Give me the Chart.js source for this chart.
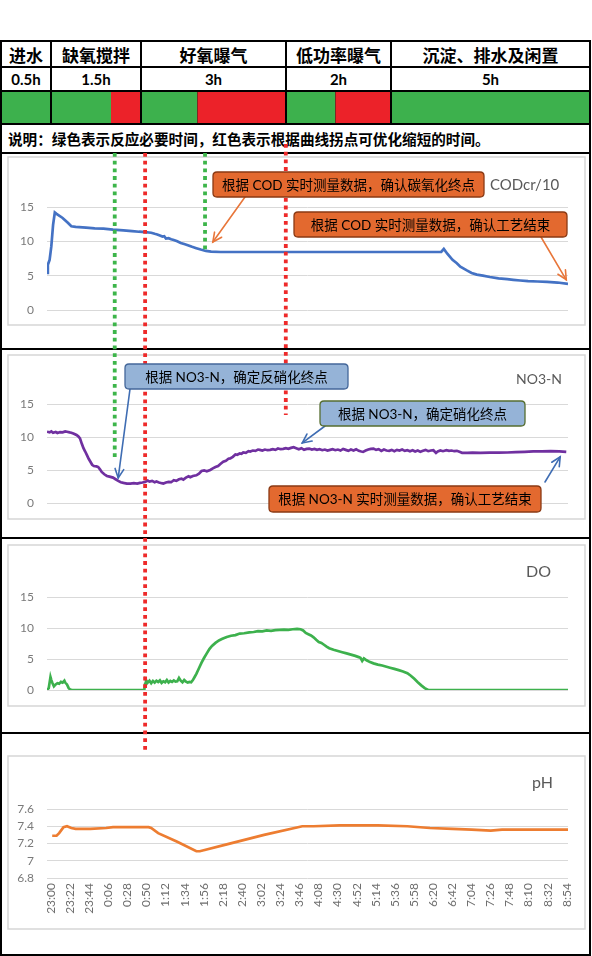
<!DOCTYPE html>
<html>
<head>
<meta charset="utf-8">
<script src="https://cdn.jsdelivr.net/npm/chart.js@4.4.1/dist/chart.umd.min.js"></script>
<style>
  html, body { margin: 0; padding: 0; background: #fff; }
  #page { position: relative; width: 592px; height: 956px; overflow: hidden; font-family: "Noto Sans CJK SC", sans-serif; }
  .cell { position: absolute; display: flex; align-items: center; justify-content: center; font-weight: bold; color: #000; box-sizing: border-box; white-space: nowrap; }
  #overlay { position: absolute; left: 0; top: 0; pointer-events: none; z-index: 10; }
</style>
</head>
<body>
<div id="page"></div>
<script>
// ---------- table ----------
const phaseNames = ['进水', '缺氧搅拌', '好氧曝气', '低功率曝气', '沉淀、排水及闲置'];
const phaseHours = ['0.5h', '1.5h', '3h', '2h', '5h'];
const noteText = '说明：绿色表示反应必要时间，红色表示根据曲线拐点可优化缩短的时间。';

// ---------- time axis (minutes after 23:00) ----------
const timeLabels = ['23:00', '23:22', '23:44', '0:06', '0:28', '0:50', '1:12', '1:34', '1:56', '2:18',
  '2:40', '3:02', '3:24', '3:46', '4:08', '4:30', '4:52', '5:14', '5:36', '5:58', '6:20', '6:42',
  '7:04', '7:26', '7:48', '8:10', '8:32', '8:54'];

// ---------- series ----------
const chartTitles = ['CODcr/10', 'NO3-N', 'DO', 'pH'];
const yMin = [0, 0, 0, 6.8];
const yMax = [15, 15, 15, 7.6];
const yStep = [5, 5, 5, 0.2];

const codT = [0, 1, 3, 5, 7, 9, 11, 18, 24, 28, 33, 45, 55, 65, 76, 88, 98, 106, 113, 120, 124, 127, 130, 133, 135,
  137, 140, 143, 146, 150, 154, 158, 163, 167, 172, 177, 183, 189, 200, 300, 400, 454, 457, 461, 467, 472, 476,
  483, 489, 495, 502, 510, 520, 530, 537, 545, 554, 565, 576, 588, 600];
const codV = [5.4, 6.6, 7.3, 9.3, 12.4, 14.2, 14.0, 13.4, 12.7, 12.2, 12.1, 12.0, 11.9, 11.85, 11.7, 11.6, 11.5, 11.4,
  11.35, 11.25, 11.1, 11.0, 10.85, 10.7, 10.75, 10.4, 10.45, 10.3, 10.2, 10.0, 9.75, 9.6, 9.4, 9.2, 9.0, 8.8, 8.6,
  8.5, 8.45, 8.45, 8.45, 8.45, 8.9, 8.2, 7.3, 6.8, 6.3, 5.8, 5.4, 5.15, 5.0, 4.8, 4.6, 4.5, 4.4, 4.3, 4.2, 4.15,
  4.1, 4.0, 3.8];

const no3T = [0, 3, 5, 7, 10, 12, 15, 18, 21, 23, 26, 28, 31, 34, 36, 38, 40, 42, 44, 46, 48, 50, 52, 54, 57, 59, 61,
  63, 66, 69, 72, 76, 79, 82, 85, 88, 92, 96, 100, 104, 107, 110, 113, 116, 118, 121, 124, 126, 129, 132, 134, 137,
  140, 143, 146, 149, 152, 155, 157, 160, 163, 165, 168, 172, 175, 178, 181, 184, 188, 191, 194, 197, 200, 203, 206,
  209, 211, 214, 217, 219, 222, 224, 226, 229, 232, 234, 237, 240, 243, 245, 248, 251, 254, 257, 260, 263, 266, 269,
  272, 275, 278, 281, 284, 287, 290, 293, 296, 299, 302, 305, 308, 311, 314, 317, 320, 323, 326, 329, 332, 335, 338,
  341, 344, 347, 350, 353, 356, 359, 362, 364, 367, 370, 373, 376, 379, 382, 385, 388, 391, 394, 397, 400, 403, 406,
  409, 412, 415, 418, 421, 424, 427, 430, 433, 436, 439, 442, 445, 448, 450, 453, 456, 460, 463, 466, 469, 472, 475,
  478, 484, 490, 499, 510, 520, 530, 540, 550, 560, 570, 580, 590, 598];
const no3V = [10.8, 10.7, 10.85, 10.65, 10.75, 10.6, 10.75, 10.7, 10.85, 10.8, 10.7, 10.65, 10.5, 10.3, 10.1, 9.8, 9.0,
  8.3, 7.8, 7.25, 6.7, 6.25, 5.8, 5.6, 5.55, 5.45, 5.1, 4.7, 4.35, 4.1, 4.0, 3.85, 3.6, 3.35, 3.15, 3.05, 2.95, 2.95,
  3.0, 2.95, 3.05, 3.1, 3.2, 3.4, 3.25, 3.35, 3.15, 3.25, 3.1, 3.0, 2.95, 3.1, 3.2, 3.15, 3.45, 3.35, 3.6, 3.7, 3.55,
  3.85, 4.05, 3.9, 4.1, 4.2, 4.45, 4.85, 4.95, 4.8, 5.0, 5.25, 5.45, 5.6, 5.95, 6.25, 6.4, 6.7, 6.75, 7.0, 7.35, 7.3,
  7.5, 7.45, 7.65, 7.6, 7.85, 7.8, 7.95, 7.9, 8.1, 8.05, 7.95, 8.1, 8.0, 8.05, 8.15, 8.05, 8.25, 8.15, 8.2, 8.3, 8.2,
  8.35, 8.45, 8.3, 8.15, 8.3, 8.05, 8.2, 8.25, 8.1, 8.2, 8.05, 8.15, 8.0, 8.1, 7.95, 8.05, 8.15, 8.0, 8.1, 7.95, 8.2,
  8.05, 7.9, 8.1, 7.95, 8.15, 7.9, 7.8, 7.75, 7.95, 8.1, 8.2, 8.25, 8.05, 8.15, 7.9, 8.1, 7.95, 7.9, 8.05, 7.85, 8.05,
  7.95, 8.1, 7.9, 8.0, 7.85, 8.0, 7.8, 7.95, 7.75, 7.9, 8.05, 7.85, 7.95, 8.0, 7.6, 7.8, 7.95, 7.85, 8.0, 7.9, 7.95,
  7.85, 7.9, 7.75, 7.6, 7.6, 7.62, 7.6, 7.62, 7.63, 7.65, 7.7, 7.75, 7.82, 7.83, 7.85, 7.83, 7.75];

const doT = [0, 2, 4, 5, 6, 8, 10, 12, 14, 16, 18, 20, 21, 23, 25, 27, 29, 112, 113, 114, 116, 118, 120, 122, 124, 126,
  128, 130, 132, 134, 136, 138, 140, 142, 144, 146, 148, 150, 152, 154, 156, 158, 160, 162, 164, 166, 168, 170, 172,
  175, 178, 181, 184, 187, 190, 194, 198, 202, 207, 212, 217, 222, 227, 233, 238, 243, 248, 253, 258, 263, 268, 273,
  278, 283, 288, 292, 295, 298, 301, 304, 307, 310, 313, 316, 319, 322, 325, 330, 335, 340, 345, 350, 355, 359, 361,
  363, 365, 368, 372, 376, 381, 386, 390, 395, 400, 405, 410, 415, 419, 423, 427, 431, 435, 439, 600];
const doV = [0, 0.3, 2.1, 1.6, 1.2, 0.6, 0.9, 1.1, 1.0, 1.3, 1.2, 1.5, 1.2, 0.9, 0.3, 0.05, 0, 0, 1.0, 1.6, 1.2, 1.5,
  1.1, 1.45, 1.2, 1.5, 1.3, 1.55, 1.15, 1.4, 1.25, 1.6, 1.2, 1.45, 1.3, 1.55, 1.35, 1.4, 1.95, 1.5, 1.25, 1.6, 1.35,
  1.2, 1.3, 1.25, 1.6, 2.1, 2.6, 3.5, 4.4, 5.2, 5.9, 6.6, 7.1, 7.6, 8.0, 8.25, 8.55, 8.75, 8.85, 9.1, 9.15, 9.3, 9.35,
  9.5, 9.45, 9.6, 9.55, 9.65, 9.7, 9.75, 9.7, 9.8, 9.85, 9.8, 9.6, 9.2, 9.0, 8.8, 8.5, 8.1, 7.75, 7.6, 7.3, 7.0, 6.75,
  6.5, 6.3, 6.1, 5.9, 5.7, 5.5, 5.3, 5.2, 4.7, 5.1, 4.8, 4.5, 4.3, 4.1, 3.95, 3.8, 3.6, 3.4, 3.2, 3.0, 2.7, 2.3, 1.8,
  1.25, 0.75, 0.3, 0, 0];

const phT = [6, 11, 14, 19, 23, 28, 33, 50, 68, 76, 98, 117, 120, 128, 150, 172, 176, 207, 250, 294, 307, 337, 381,
  415, 441, 467, 489, 511, 524, 600];
const phV = [7.29, 7.29, 7.32, 7.39, 7.40, 7.38, 7.37, 7.37, 7.38, 7.39, 7.39, 7.39, 7.38, 7.32, 7.22, 7.11, 7.11,
  7.19, 7.30, 7.40, 7.40, 7.41, 7.41, 7.40, 7.38, 7.37, 7.36, 7.35, 7.36, 7.36];

// dotted phase markers (minutes after 23:00)
const markerT = [78, 113, 182, 275];

// callouts: text and the data point each arrow points at
const calloutTexts = ['根据 COD 实时测量数据，确认碳氧化终点', '根据 COD 实时测量数据，确认工艺结束',
  '根据 NO3-N，确定反硝化终点', '根据 NO3-N，确定硝化终点', '根据 NO3-N 实时测量数据，确认工艺结束'];
const calloutTipT = [191, 598, 82, 294, 591];
const calloutTipV = [9.9, 4.4, 3.8, 9.1, 7.0];

// ---------- layout / styles ----------
const colX = [1, 51, 141, 286, 391, 590];
const rowY = [41, 67, 91, 124, 153];
const splitX = [51, 111, 197, 335, 590];
const GREEN = '#3DB14D', RED = '#EC2229';
const panels = [
  { top: 154, h: 194, plotTop: 207, plotBottom: 310, frame: [157, 325], tx: 490, ty: 185, ts: 15, color: '#4472C4' },
  { top: 351, h: 186, plotTop: 404, plotBottom: 503, frame: [355, 519], tx: 516, ty: 379, ts: 14, color: '#7030A0' },
  { top: 540, h: 192, plotTop: 597, plotBottom: 690, frame: [545, 706], tx: 526, ty: 572, ts: 16, color: '#3DB14D' },
  { top: 735, h: 219, plotTop: 809, plotBottom: 878, frame: [756, 929], tx: 532, ty: 783, ts: 16, color: '#ED7D31' }
];
const markerStyle = [
  { color: '#3DB54A', y0: 153, y1: 460 },
  { color: '#EE2A2A', y0: 153, y1: 750 },
  { color: '#3DB54A', y0: 153, y1: 250 },
  { color: '#EE2A2A', y0: 144, y1: 415 }
];
const ORANGE = '#E3692F', ORANGE_EDGE = '#8B3A14', BLUE = '#95B3D7';
const calloutStyle = [
  { chart: 0, box: [213, 172, 271, 25], tail: [245, 197], fill: ORANGE, edge: ORANGE_EDGE, arrow: '#E8763A' },
  { chart: 0, box: [294, 212, 273, 25], tail: [541, 237], fill: ORANGE, edge: ORANGE_EDGE, arrow: '#E8763A' },
  { chart: 1, box: [125, 364, 223, 25], tail: [130, 389], fill: BLUE, edge: '#44679A', arrow: '#3F6DB3' },
  { chart: 1, box: [320, 401, 205, 25], tail: [325, 426], fill: BLUE, edge: '#566E31', arrow: '#3F6DB3' },
  { chart: 1, box: [269, 486, 272, 26], tail: [545, 482], fill: ORANGE, edge: ORANGE_EDGE, arrow: '#3F6DB3' }
];

const page = document.getElementById('page');
function block(x, y, w, h, css) {
  const d = document.createElement('div');
  d.style.cssText = `position:absolute;left:${x}px;top:${y}px;width:${w}px;height:${h}px;` + (css || '');
  page.appendChild(d);
  return d;
}

// header table
phaseNames.forEach((name, i) => {
  const w = colX[i + 1] - colX[i];
  const c1 = block(colX[i], rowY[0], w, rowY[1] - rowY[0], 'font-size:17px;');
  c1.className = 'cell'; c1.textContent = name;
  const c2 = block(colX[i], rowY[1], w, rowY[2] - rowY[1], 'font-size:15px;font-family:Lato,sans-serif;');
  c2.className = 'cell'; c2.textContent = phaseHours[i];
  block(colX[i], rowY[2], splitX[i] - colX[i], rowY[3] - rowY[2], 'background:' + GREEN);
  if (splitX[i] < colX[i + 1]) {
    block(splitX[i], rowY[2], colX[i + 1] - splitX[i], rowY[3] - rowY[2], 'background:' + RED);
  }
});
const note = block(8, rowY[3], 580, rowY[4] - rowY[3], 'font-size:14.6px;justify-content:flex-start;');
note.className = 'cell'; note.textContent = noteText;

// chart canvases
const charts = panels.map((p, i) => {
  const holder = block(2, p.top, 587, p.h, '');
  const cv = document.createElement('canvas');
  cv.style.width = '587px'; cv.style.height = p.h + 'px';
  holder.appendChild(cv);
  const last = i === 3;
  const xs = [codT, no3T, doT, phT][i], ys = [codV, no3V, doV, phV][i];
  const axisH = last ? 45 : 0;
  return new Chart(cv, {
    type: 'line',
    data: {
      datasets: [{
        data: xs.map((x, k) => ({ x: x, y: ys[k] })),
        borderColor: p.color, borderWidth: 2.7, pointRadius: 0, tension: 0, fill: false
      }]
    },
    options: {
      responsive: false, maintainAspectRatio: false, animation: false,
      layout: { padding: { left: 0, right: 21, top: p.plotTop - p.top,
        bottom: p.h - (p.plotBottom - p.top) - axisH } },
      plugins: { legend: { display: false }, tooltip: { enabled: false } },
      scales: {
        x: {
          type: 'linear', min: 0, max: 600, display: last,
          grid: { display: false, drawTicks: false }, border: { display: false },
          afterBuildTicks: s => {
            s.ticks = timeLabels.map(l => {
              const [h, m] = l.split(':').map(Number);
              return { value: (h * 60 + m - 23 * 60 + 1440) % 1440 };
            });
          },
          afterFit: s => { s.height = axisH; },
          ticks: { autoSkip: false, minRotation: 90, maxRotation: 90, labelOffset: 4, padding: 5,
            color: '#6E6E6E', font: { family: 'Lato', size: 12 }, callback: (v, idx) => timeLabels[idx] }
        },
        y: {
          min: yMin[i], max: yMax[i],
          afterFit: s => { s.width = 45; },
          grid: { color: '#D9D9D9', drawTicks: false, lineWidth: 1 }, border: { display: false },
          ticks: { stepSize: yStep[i], autoSkip: false, padding: 13, color: '#7A7A7A',
            font: { family: 'Lato', size: 12 }, callback: v => String(+v.toFixed(1)) }
        }
      }
    },
    plugins: [{
      id: 'frame',
      beforeDraw(chart) {
        const ctx = chart.ctx;
        ctx.save();
        ctx.strokeStyle = '#D6D6D6'; ctx.lineWidth = 1.5;
        ctx.strokeRect(6, p.frame[0] - p.top, 577, p.frame[1] - p.frame[0]);
        ctx.fillStyle = '#595959';
        ctx.font = `${p.ts}px Lato, sans-serif`;
        ctx.textBaseline = 'middle';
        ctx.fillText(chartTitles[i], p.tx - 2, p.ty - p.top);
        ctx.restore();
      }
    }]
  });
});

// page frame lines
[41, 67, 91, 124, 153, 349, 538, 733, 955].forEach(y => block(0, y - 1, 591, 2, 'background:#000;z-index:5'));
[1, 590].forEach(x => block(x - 1, 40, 2, 916, 'background:#000;z-index:5'));
colX.slice(1, 5).forEach(x => block(x - 1, 41, 2, 83, 'background:#000;z-index:5'));
[197, 335].forEach(x => block(x, 92, 1, 31, 'background:#7A2A22;z-index:5'));

// overlay: dotted markers + callouts
const dpr = window.devicePixelRatio || 1;
const ov = document.createElement('canvas');
ov.id = 'overlay';
ov.width = 592 * dpr; ov.height = 956 * dpr;
ov.style.width = '592px'; ov.style.height = '956px';
page.appendChild(ov);
const ctx = ov.getContext('2d');
ctx.scale(dpr, dpr);

markerT.forEach((t, k) => {
  const st = markerStyle[k];
  const x = charts[0].scales.x.getPixelForValue(t) + 2;
  ctx.save();
  ctx.strokeStyle = st.color; ctx.lineWidth = 3.8;
  ctx.setLineDash([3.8, 3.9]);
  ctx.beginPath(); ctx.moveTo(x, st.y0); ctx.lineTo(x, st.y1); ctx.stroke();
  ctx.restore();
});

function roundRect(x, y, w, h, r) {
  ctx.beginPath();
  ctx.moveTo(x + r, y); ctx.lineTo(x + w - r, y); ctx.quadraticCurveTo(x + w, y, x + w, y + r);
  ctx.lineTo(x + w, y + h - r); ctx.quadraticCurveTo(x + w, y + h, x + w - r, y + h);
  ctx.lineTo(x + r, y + h); ctx.quadraticCurveTo(x, y + h, x, y + h - r);
  ctx.lineTo(x, y + r); ctx.quadraticCurveTo(x, y, x + r, y);
  ctx.closePath();
}
function arrow(x0, y0, x1, y1, color) {
  ctx.save();
  ctx.strokeStyle = color; ctx.lineWidth = 1.6; ctx.lineCap = 'round';
  ctx.beginPath(); ctx.moveTo(x0, y0); ctx.lineTo(x1, y1); ctx.stroke();
  const a = Math.atan2(y1 - y0, x1 - x0), L = 10, w = 0.45;
  ctx.beginPath();
  ctx.moveTo(x1 - L * Math.cos(a - w), y1 - L * Math.sin(a - w));
  ctx.lineTo(x1, y1);
  ctx.lineTo(x1 - L * Math.cos(a + w), y1 - L * Math.sin(a + w));
  ctx.stroke();
  ctx.restore();
}

calloutTexts.forEach((text, k) => {
  const st = calloutStyle[k];
  const ch = charts[st.chart], p = panels[st.chart];
  const tipX = ch.scales.x.getPixelForValue(calloutTipT[k]) + 2;
  const tipY = ch.scales.y.getPixelForValue(calloutTipV[k]) + p.top;
  arrow(st.tail[0], st.tail[1], tipX, tipY, st.arrow);
  const [bx, by, bw, bh] = st.box;
  roundRect(bx, by, bw, bh, 4);
  ctx.fillStyle = st.fill; ctx.fill();
  ctx.strokeStyle = st.edge; ctx.lineWidth = 1.3; ctx.stroke();
  ctx.fillStyle = '#000';
  ctx.font = '13.5px Lato, "Noto Sans CJK SC", sans-serif';
  ctx.textAlign = 'center'; ctx.textBaseline = 'middle';
  ctx.fillText(text, bx + bw / 2, by + bh / 2 + 1);
});
</script>
</body>
</html>
